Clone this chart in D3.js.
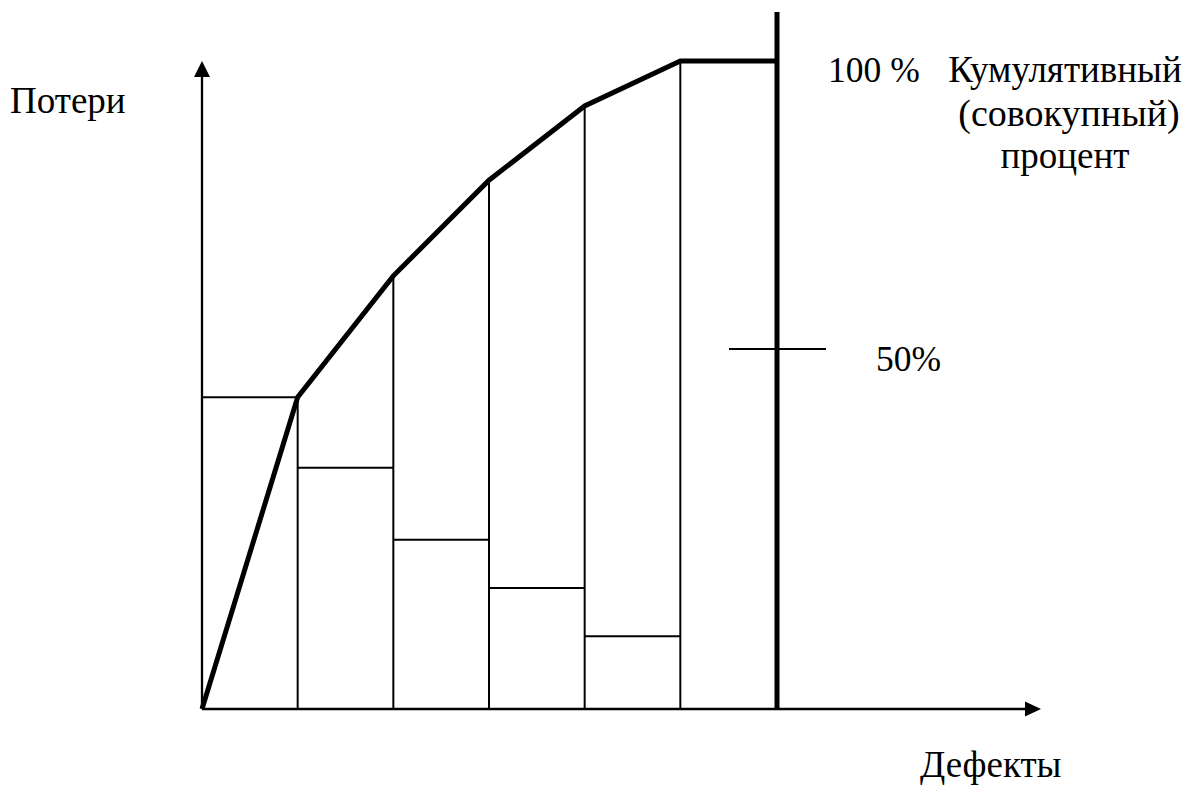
<!DOCTYPE html>
<html><head><meta charset="utf-8">
<script src="https://cdn.jsdelivr.net/npm/d3@7"></script>
<style>
html,body{margin:0;padding:0;background:#fff;}
</style></head>
<body>
<svg id="c" width="1193" height="785"></svg>
<script>
// categories (defect groups), loss bars (%) and cumulative percent
const categories = ["A","B","C","D","E","F"];
const losses = [43.3, 33.5, 23.5, 16.8, 10.1, null];
const cumulative = [0, 43.3, 62.7, 79.3, 92.2, 100, 100];
const pctTicks = [50, 100];
const tickLabels = ["50%", "100 %"];
const yTitle = "Потери";
const xTitle = "Дефекты";
const rightTitle = ["Кумулятивный", "(совокупный)", "процент"];

const svg = d3.select("#c");
const x0 = 202, x1 = 776, y0 = 709;
const x = d3.scaleLinear().domain([0, categories.length]).range([x0, x1]);
const y = d3.scaleLinear().domain([0, 50, 100]).range([y0, 349, 61]);

// axes with arrows
svg.append("line").attr("x1", x0).attr("y1", y0).attr("x2", x0).attr("y2", 72)
  .attr("stroke", "#000").attr("stroke-width", 2.3);
svg.append("path").attr("d", `M${x0},61 L${x0-8},77 L${x0+8},77 Z`).attr("fill", "#000");
svg.append("line").attr("x1", x0).attr("y1", y0).attr("x2", 1030).attr("y2", y0)
  .attr("stroke", "#000").attr("stroke-width", 2.3);
svg.append("path").attr("d", `M1041,${y0} L1025,${y0-7.5} L1025,${y0+7.5} Z`).attr("fill", "#000");

// bars
categories.forEach((c, i) => {
  if (losses[i] != null) {
    svg.append("line").attr("x1", x(i)).attr("x2", x(i+1))
      .attr("y1", y(losses[i])).attr("y2", y(losses[i]))
      .attr("stroke", "#000").attr("stroke-width", 2);
  }
});
// vertical separators up to cumulative curve
d3.range(1, categories.length).forEach(i => {
  svg.append("line").attr("x1", x(i)).attr("x2", x(i))
    .attr("y1", y0).attr("y2", y(cumulative[i]))
    .attr("stroke", "#000").attr("stroke-width", 2);
});

// right thick axis
svg.append("line").attr("x1", x1+1).attr("x2", x1+1).attr("y1", 12).attr("y2", y0)
  .attr("stroke", "#000").attr("stroke-width", 5);
// 50% tick
svg.append("line").attr("x1", 729).attr("x2", 826).attr("y1", y(pctTicks[0])).attr("y2", y(pctTicks[0]))
  .attr("stroke", "#000").attr("stroke-width", 2);

// cumulative line
const line = d3.line().x((d, i) => x(i)).y(d => y(d));
svg.append("path").datum(cumulative).attr("d", line)
  .attr("fill", "none").attr("stroke", "#000").attr("stroke-width", 5)
  .attr("stroke-linejoin", "miter");

// texts
const ff = "'Liberation Serif', 'Times New Roman', serif";
function t(xp, yp, s, anchor, size) {
  return svg.append("text").attr("x", xp).attr("y", yp)
    .attr("font-family", ff).attr("font-size", size || 37).attr("fill", "#000")
    .attr("text-anchor", anchor || "start").text(s);
}
t(10, 113, yTitle);
t(828, 82, tickLabels[1], "start", 35.5).attr("xml:space", "preserve");
t(1065, 82, rightTitle[0], "middle");
t(1069, 126, rightTitle[1], "middle", 38);
t(1065, 168, rightTitle[2], "middle");
t(876, 371, tickLabels[0], "start", 35.5);
t(920, 777, xTitle);
</script>
</body></html>
